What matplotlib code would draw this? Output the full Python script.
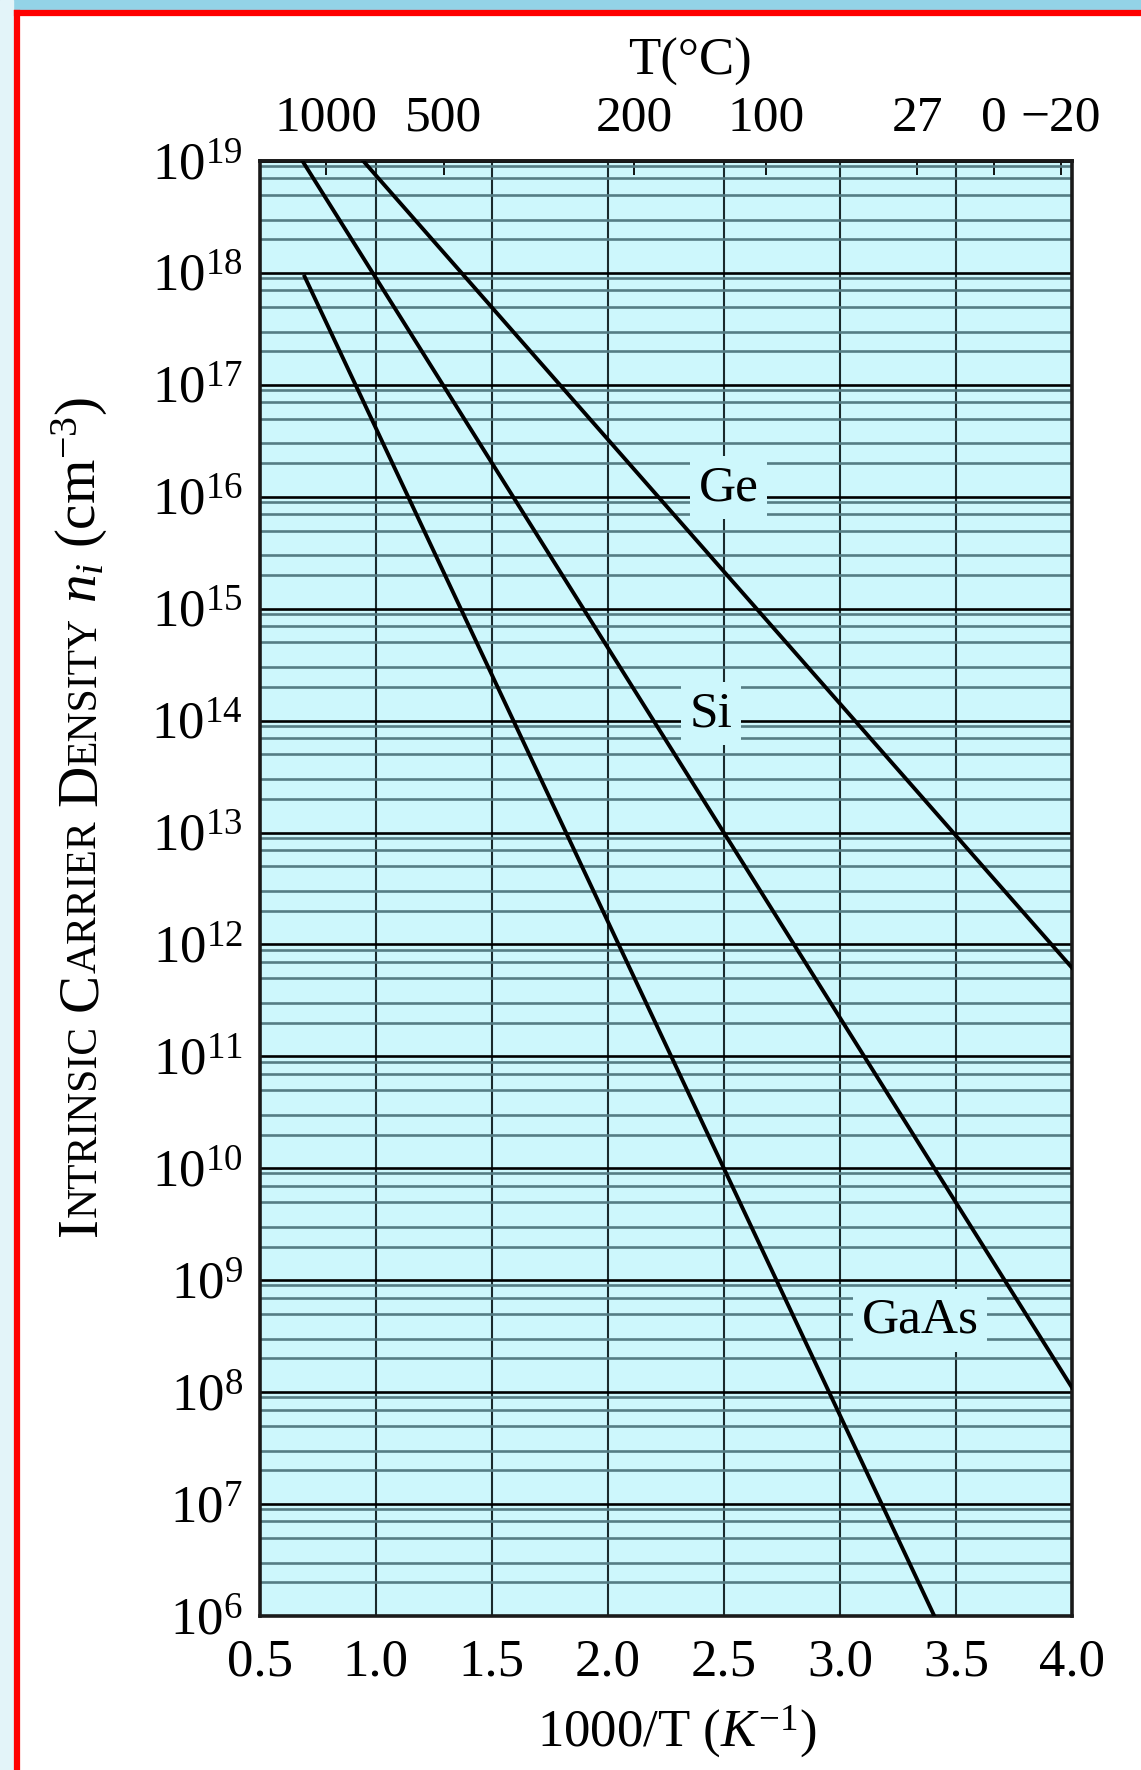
import matplotlib
matplotlib.use("Agg")
import matplotlib.pyplot as plt
import numpy as np
from matplotlib.ticker import LogLocator, NullLocator, FixedLocator, NullFormatter
from matplotlib.lines import Line2D
from matplotlib.patches import Rectangle

plt.rcParams['font.family'] = ['Liberation Serif', 'DejaVu Serif']
plt.rcParams['mathtext.fontset'] = 'custom'
plt.rcParams['mathtext.rm'] = 'Liberation Serif'
plt.rcParams['mathtext.it'] = 'Liberation Serif:italic'
plt.rcParams['mathtext.bf'] = 'Liberation Serif:bold'

# data: straight lines on the log plot, two end points each
ge_x = [0.947, 4.0]
ge_ni = [1e19, 6.2e11]
si_x = [0.685, 4.0]
si_ni = [1e19, 1.1e8]
gaas_x = [0.694, 3.407]
gaas_ni = [9.3e17, 1e6]

# label positions (x, ni)
labels = ["Ge", "Si", "GaAs"]
label_x = [2.52, 2.445, 3.345]
label_ni = [1.2e16, 1.15e14, 4.4e8]

x_ticks = [0.5, 1.0, 1.5, 2.0, 2.5, 3.0, 3.5, 4.0]
y_exps = list(range(6, 20))
top_temps = [1000, 500, 200, 100, 27, 0, -20]
top_labels = ["1000", "500", "200", "100", "27", "0", "\u221220"]

bg = '#cdf7fc'

fig = plt.figure(figsize=(11.41, 17.70), dpi=100)

# slide background bits + red frame
fig.add_artist(Rectangle((0, 1 - 10 / 1770), 1, 10 / 1770, transform=fig.transFigure,
                         color='#93d3e7', zorder=0))
fig.add_artist(Rectangle((0, 0), 13 / 1141, 1, transform=fig.transFigure,
                         color='#e3f4f9', zorder=0))
fig.add_artist(Line2D([17 / 1141, 17 / 1141], [0, 1 - 13 / 1770], color='red', lw=4.5))
fig.add_artist(Line2D([17 / 1141, 1], [1 - 13 / 1770, 1 - 13 / 1770], color='red', lw=4.5))

ax = fig.add_axes([0.2275, 0.087, 0.712, 0.822])
ax.set_facecolor(bg)
ax.set_yscale('log')
ax.set_xlim(0.5, 4.0)
ax.set_ylim(1e6, 1e19)

# grid
ax.yaxis.set_major_locator(FixedLocator([10.0 ** e for e in y_exps]))
ax.yaxis.set_minor_locator(LogLocator(base=10, subs=[2, 3, 5, 7, 9], numticks=100))
ax.yaxis.set_minor_formatter(NullFormatter())
ax.set_yticks([10.0 ** e for e in y_exps],
              [r'$\mathregular{10^{%d}}$' % e for e in y_exps])
ax.set_xticks(x_ticks, ['%.1f' % v for v in x_ticks])
ax.grid(True, which='major', axis='y', color='black', lw=1.9)
ax.grid(True, which='minor', axis='y', color='#557d84', lw=1.9)
ax.grid(True, which='major', axis='x', color='#1a2a2c', lw=1.5)
ax.set_axisbelow(True)
ax.tick_params(axis='both', which='both', length=0)
ax.tick_params(axis='x', labelsize=38, pad=16)
ax.tick_params(axis='y', labelsize=38, pad=12)
for s in ax.spines.values():
    s.set_linewidth(2.6)
    s.set_color('#1a1a1a')

# curves
for xs, ys in [(ge_x, ge_ni), (si_x, si_ni), (gaas_x, gaas_ni)]:
    ax.plot(xs, ys, color='black', lw=2.8, zorder=3)

for name, lx, ly in zip(labels, label_x, label_ni):
    ax.text(lx, ly, name, fontsize=37, ha='center', va='center', zorder=4,
            bbox=dict(facecolor=bg, edgecolor='none', pad=6))


# top temperature axis
def to_celsius(x):
    x = np.asarray(x, dtype=float)
    with np.errstate(divide='ignore'):
        return 1000.0 / x - 273.0


def to_inv(t):
    t = np.asarray(t, dtype=float)
    with np.errstate(divide='ignore'):
        return 1000.0 / (t + 273.0)


sec = ax.secondary_xaxis('top', functions=(to_celsius, to_inv))
sec.set_xticks(top_temps, top_labels)
sec.xaxis.set_minor_locator(NullLocator())
sec.tick_params(direction='in', length=10, width=1.3, labelsize=37, pad=14)
sec.spines['top'].set_linewidth(2.6)

fig.text(690 / 1141, 1 - 62 / 1770, 'T(\u00b0C)', fontsize=38, ha='center', va='center')
fig.text(677 / 1141, 1 - 1732 / 1770, r'1000/T $\mathit{(K^{-1})}$', fontsize=38,
         ha='center', va='center')

# y label in small caps, built piece by piece
big = 41
small = 30
pieces = [("I", big, 0), ("NTRINSIC", small, 1), ("C", big, 0), ("ARRIER", small, 1),
          ("D", big, 0), ("ENSITY", small, 1), (r"$n_i$", big, 1),
          (r"(cm$^{-3}$)", big, 0)]
fig.canvas.draw()
renderer = fig.canvas.get_renderer()
x0 = 96 / 1141
y = 1 - 1236 / 1770
space = 0.25 * big * 100 / 72 / fig.bbox.height
for txt, size, gap in pieces:
    t = fig.text(x0, y, txt, rotation=90, rotation_mode='anchor', ha='left',
                 va='baseline', fontsize=size)
    bb = t.get_window_extent(renderer)
    y += bb.height / fig.bbox.height + gap * space

fig.savefig('out.png', dpi=100)
